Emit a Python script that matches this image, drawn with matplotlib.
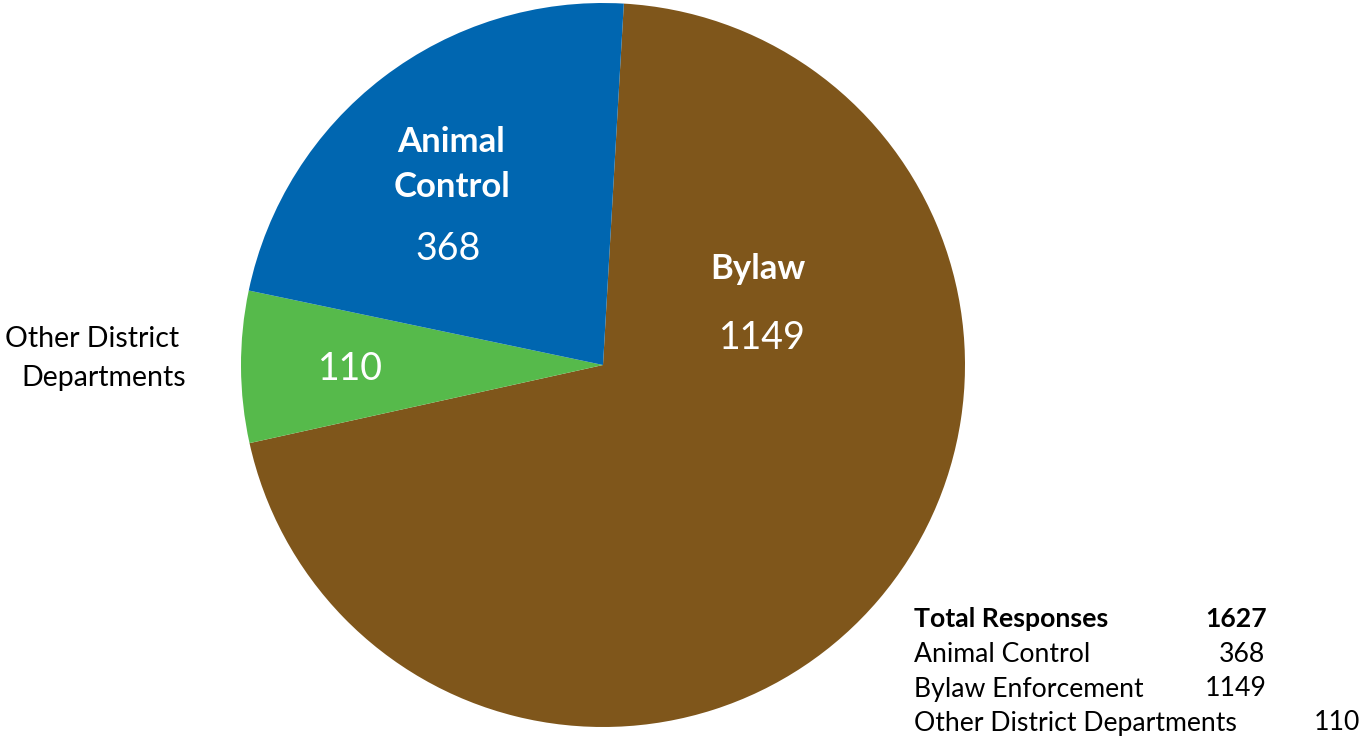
import matplotlib
matplotlib.use("Agg")
import matplotlib.pyplot as plt

categories = ["Bylaw", "Other District Departments", "Animal Control"]
values = [1149, 110, 368]
colors = ["#7F561B", "#56BA4B", "#0066B0"]
table_labels = ["Animal Control", "Bylaw Enforcement", "Other District Departments"]
table_values = [368, 1149, 110]
total = sum(values)

plt.rcParams['font.family'] = ['Lato', 'DejaVu Sans']

W, H = 1363, 737
fig = plt.figure(figsize=(W / 100, H / 100), dpi=100)
ax = fig.add_axes([0, 0, 1, 1])
ax.set_xlim(0, W)
ax.set_ylim(0, H)
ax.set_aspect('equal')
ax.axis('off')

cx, cy, r = 603, H - 365, 362
ax.pie(values, colors=colors, startangle=86.7, counterclock=False,
       center=(cx, cy), radius=r, frame=True,
       wedgeprops=dict(linewidth=0))
ax.set_xlim(0, W)
ax.set_ylim(0, H)
ax.axis('off')

def T(x, y, s, **kw):
    ax.text(x, H - y, s, **kw)

lab = dict(color='white', fontsize=25, fontweight='bold', ha='center', va='center')
num = dict(color='white', fontsize=27, ha='center', va='center')
T(451, 142, "Animal", **lab)
T(452, 187, "Control", **lab)
T(448, 249, str(values[2]), **num)
T(758, 269, "Bylaw", **lab)
T(762, 338, str(values[0]), **num)
T(350, 369, str(values[1]), **num)
T(92, 339, "Other District", color='black', fontsize=20.5, ha='center', va='center')
T(104, 378, "Departments", color='black', fontsize=20.5, ha='center', va='center')

ts = 19.2
T(914, 619, "Total Responses", fontsize=ts, fontweight='bold', ha='left', va='center')
T(1267, 619, str(total), fontsize=ts, fontweight='bold', ha='right', va='center')
rows_y = [654, 689, 723]
num_x = [1265, 1267, 1360]
for lbl, v, y, x in zip(table_labels, table_values, rows_y, num_x):
    T(914, y, lbl, fontsize=ts, ha='left', va='center')
    T(x, y, str(v), fontsize=ts, ha='right', va='center')

fig.savefig("out.png", dpi=100)
